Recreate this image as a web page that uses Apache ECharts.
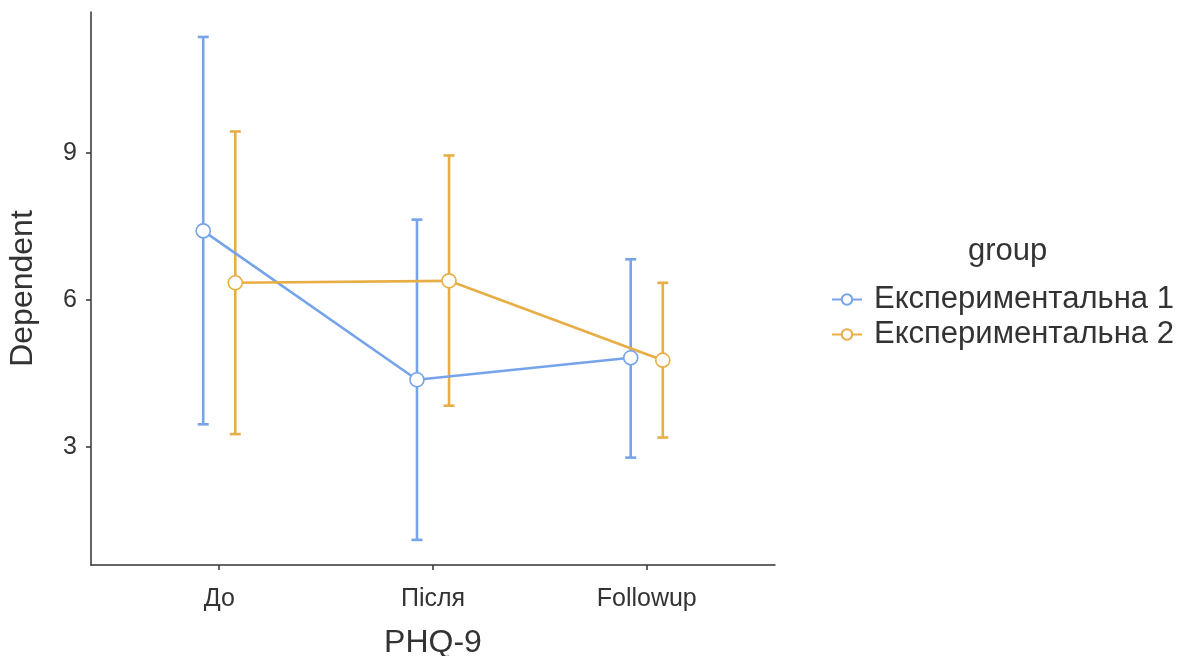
<!DOCTYPE html>
<html>
<head>
<meta charset="utf-8">
<script src="https://cdn.jsdelivr.net/npm/echarts@6/dist/echarts.min.js"></script>
<style>
html,body{margin:0;padding:0;background:#fff;}
#chart{width:1203px;height:656px;}
</style>
</head>
<body>
<div id="chart"></div>
<script>
// ---- data ----
const categories = ['До', 'Після', 'Followup'];
const groupNames = ['Експериментальна 1', 'Експериментальна 2'];
const g1Mean  = [7.41, 4.37, 4.82];
const g1Lower = [3.46, 1.10, 2.78];
const g1Upper = [11.37, 7.64, 6.83];
const g2Mean  = [6.35, 6.39, 4.77];
const g2Lower = [3.26, 3.84, 3.19];
const g2Upper = [9.44, 8.95, 6.35];
const yTicks = [3, 6, 9];
const xTicks = [1, 2, 3];

const colors = ['#76A4EA', '#E8AE46'];
const dodge = 0.075;
const FONT = 'Liberation Sans, Arial, sans-serif';
const TXT = '#333333';

function pts(mean, off) {
  return mean.map((v, i) => [i + 1 + off, v]);
}
function bars(lower, upper, off) {
  return lower.map((v, i) => [i + 1 + off, v, upper[i]]);
}

function errSeries(lower, upper, off, color) {
  return {
    type: 'custom',
    z: 1,
    silent: true,
    data: bars(lower, upper, off),
    renderItem: function (params, api) {
      const x = api.value(0);
      const lo = api.coord([x, api.value(1)]);
      const hi = api.coord([x, api.value(2)]);
      const hw = 5.5;
      const st = { stroke: color, lineWidth: 2.6 };
      return {
        type: 'group',
        children: [
          { type: 'line', shape: { x1: lo[0], y1: lo[1], x2: hi[0], y2: hi[1] }, style: st },
          { type: 'line', shape: { x1: lo[0] - hw, y1: lo[1], x2: lo[0] + hw, y2: lo[1] }, style: st },
          { type: 'line', shape: { x1: hi[0] - hw, y1: hi[1], x2: hi[0] + hw, y2: hi[1] }, style: st }
        ]
      };
    }
  };
}

function lineSeries(name, mean, off, color) {
  return {
    name: name,
    type: 'line',
    z: 3,
    data: pts(mean, off),
    symbol: 'circle',
    symbolSize: 14,
    showAllSymbol: true,
    lineStyle: { color: color, width: 2.6 },
    itemStyle: { color: '#ffffff', borderColor: color, borderWidth: 1.6 },
    emphasis: { disabled: true }
  };
}

const chart = echarts.init(document.getElementById('chart'), null, { renderer: 'canvas' });
chart.setOption({
  animation: false,
  backgroundColor: '#ffffff',
  textStyle: { fontFamily: FONT },
  title: {
    text: 'group',
    left: 963,
    top: 231,
    textStyle: { fontFamily: FONT, fontSize: 31, fontWeight: 'normal', color: TXT }
  },
  legend: {
    orient: 'vertical',
    left: 826,
    top: 279,
    itemWidth: 30,
    itemHeight: 13,
    itemGap: 4,
    data: groupNames,
    textStyle: { fontFamily: FONT, fontSize: 31, color: TXT, padding: [0, 0, 0, 7] }
  },
  grid: { left: 91, right: 428, top: 12, bottom: 91, containLabel: false, outerBoundsMode: 'none' },
  xAxis: {
    type: 'value',
    min: 0.4,
    max: 3.6,
    name: 'PHQ-9',
    nameLocation: 'middle',
    nameGap: 62,
    nameTextStyle: { fontFamily: FONT, fontSize: 32, color: TXT },
    axisLine: { onZero: false, lineStyle: { color: '#333333', width: 1.5 } },
    axisTick: { show: true, length: 5, customValues: xTicks, lineStyle: { color: '#333333', width: 1.5 } },
    axisLabel: {
      customValues: xTicks,
      margin: 22,
      fontFamily: FONT, fontSize: 25, color: TXT,
      formatter: v => categories[Math.round(v) - 1] || ''
    },
    splitLine: { show: false }
  },
  yAxis: {
    type: 'value',
    min: 0.587,
    max: 11.88,
    name: 'Dependent',
    nameLocation: 'middle',
    nameGap: 52,
    nameTextStyle: { fontFamily: FONT, fontSize: 32, color: TXT },
    axisLine: { show: true, onZero: false, lineStyle: { color: '#333333', width: 1.5 } },
    axisTick: { show: true, length: 5, customValues: yTicks, lineStyle: { color: '#333333', width: 1.5 } },
    axisLabel: { customValues: yTicks, margin: 14, fontFamily: FONT, fontSize: 25, color: TXT },
    splitLine: { show: false }
  },
  series: [
    errSeries(g1Lower, g1Upper, -dodge, colors[0]),
    errSeries(g2Lower, g2Upper, dodge, colors[1]),
    lineSeries(groupNames[0], g1Mean, -dodge, colors[0]),
    lineSeries(groupNames[1], g2Mean, dodge, colors[1])
  ]
});
</script>
</body>
</html>
